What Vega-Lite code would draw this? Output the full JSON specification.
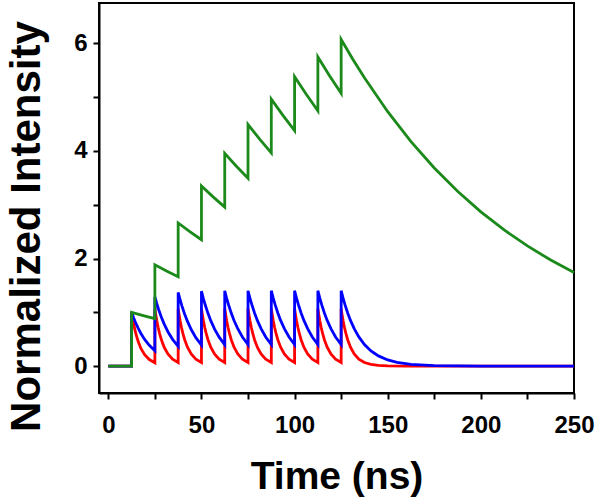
{
  "$schema": "https://vega.github.io/schema/vega-lite/v6.json",
  "width": 475,
  "height": 390,
  "autosize": {"type": "none"},
  "padding": {"left": 99, "top": 3, "right": 26, "bottom": 108},
  "background": "white",
  "config": {
    "view": {"stroke": "black", "strokeWidth": 2},
    "font": "Liberation Sans",
    "axis": {
      "grid": false,
      "domainColor": "black",
      "domainWidth": 2,
      "tickColor": "black",
      "tickWidth": 2,
      "tickSize": 6,
      "labelColor": "black",
      "labelFont": "Liberation Sans",
      "labelFontSize": 24,
      "labelFontWeight": "bold",
      "labelOverlap": false,
      "labelFlush": false,
      "titleColor": "black",
      "titleFont": "Liberation Sans",
      "titleFontWeight": "bold"
    }
  },
  "datasets": {
    "green": [
      {"t":0,"v":0},{"t":12.5,"v":0},{"t":12.5,"v":1},{"t":18.75,"v":0.9394},{"t":25,"v":0.8825},
      {"t":25,"v":1.8825},{"t":31.25,"v":1.7684},{"t":37.5,"v":1.6613},
      {"t":37.5,"v":2.6613},{"t":43.75,"v":2.5001},{"t":50,"v":2.3486},
      {"t":50,"v":3.3486},{"t":56.25,"v":3.1457},{"t":62.5,"v":2.9551},
      {"t":62.5,"v":3.9551},{"t":68.75,"v":3.7155},{"t":75,"v":3.4904},
      {"t":75,"v":4.4904},{"t":81.25,"v":4.2183},{"t":87.5,"v":3.9627},
      {"t":87.5,"v":4.9627},{"t":93.75,"v":4.6621},{"t":100,"v":4.3796},
      {"t":100,"v":5.3796},{"t":106.25,"v":5.0537},{"t":112.5,"v":4.7475},
      {"t":112.5,"v":5.7475},{"t":118.75,"v":5.3993},{"t":125,"v":5.0721},
      {"t":125,"v":6.0721},{"t":131.25,"v":5.7042},{"t":137.5,"v":5.3586},{"t":150,"v":4.729},
      {"t":162.5,"v":4.1733},{"t":175,"v":3.6829},{"t":187.5,"v":3.2502},{"t":200,"v":2.8683},
      {"t":212.5,"v":2.5313},{"t":225,"v":2.2338},{"t":237.5,"v":1.9713},{"t":250,"v":1.7397}
    ],
    "blue": [
      {"t":0,"v":0},{"t":12.5,"v":0},
      {"t":12.5,"v":1},{"t":13.5,"v":0.9048},{"t":14.5,"v":0.8187},{"t":16,"v":0.7047},{"t":17.5,"v":0.6065},{"t":19.5,"v":0.4966},{"t":22,"v":0.3867},{"t":25,"v":0.2865},
      {"t":25,"v":1.2865},{"t":26,"v":1.1641},{"t":27,"v":1.0533},{"t":28.5,"v":0.9066},{"t":30,"v":0.7803},{"t":32,"v":0.6389},{"t":34.5,"v":0.4975},{"t":37.5,"v":0.3686},
      {"t":37.5,"v":1.3686},{"t":38.5,"v":1.2384},{"t":39.5,"v":1.1205},{"t":41,"v":0.9644},{"t":42.5,"v":0.8301},{"t":44.5,"v":0.6796},{"t":47,"v":0.5293},{"t":50,"v":0.3921},
      {"t":50,"v":1.3921},{"t":51,"v":1.2596},{"t":52,"v":1.1398},{"t":53.5,"v":0.981},{"t":55,"v":0.8444},{"t":57,"v":0.6913},{"t":59.5,"v":0.5384},{"t":62.5,"v":0.3988},
      {"t":62.5,"v":1.3988},{"t":63.5,"v":1.2657},{"t":64.5,"v":1.1453},{"t":66,"v":0.9858},{"t":67.5,"v":0.8484},{"t":69.5,"v":0.6946},{"t":72,"v":0.541},{"t":75,"v":0.4008},
      {"t":75,"v":1.401},{"t":76,"v":1.2677},{"t":77,"v":1.147},{"t":78.5,"v":0.9873},{"t":80,"v":0.8498},{"t":82,"v":0.6957},{"t":84.5,"v":0.5418},{"t":87.5,"v":0.4014},
      {"t":87.5,"v":1.4014},{"t":88.5,"v":1.2677},{"t":89.5,"v":1.147},{"t":91,"v":0.9873},{"t":92.5,"v":0.8498},{"t":94.5,"v":0.6957},{"t":97,"v":0.5418},{"t":100,"v":0.4014},
      {"t":100,"v":1.4014},{"t":101,"v":1.2677},{"t":102,"v":1.147},{"t":103.5,"v":0.9873},{"t":105,"v":0.8498},{"t":107,"v":0.6957},{"t":109.5,"v":0.5418},{"t":112.5,"v":0.4014},
      {"t":112.5,"v":1.4014},{"t":113.5,"v":1.2677},{"t":114.5,"v":1.147},{"t":116,"v":0.9873},{"t":117.5,"v":0.8498},{"t":119.5,"v":0.6957},{"t":122,"v":0.5418},{"t":125,"v":0.4014},
      {"t":125,"v":1.4015},{"t":126,"v":1.2681},{"t":127,"v":1.1475},{"t":128.5,"v":0.9876},{"t":130,"v":0.8501},{"t":132,"v":0.696},{"t":134.5,"v":0.542},{"t":137.5,"v":0.4015},
      {"t":141,"v":0.283},{"t":145,"v":0.1897},{"t":150,"v":0.115},{"t":155,"v":0.0698},{"t":162.5,"v":0.033},{"t":175,"v":0.0094},{"t":200,"v":0.0008},{"t":250,"v":0}
    ],
    "red": [
      {"t":0,"v":0},{"t":12.5,"v":0},
      {"t":12.5,"v":1},{"t":13,"v":0.8948},{"t":13.5,"v":0.8007},{"t":14.25,"v":0.6778},{"t":15,"v":0.5738},{"t":16,"v":0.4594},{"t":17.5,"v":0.3292},{"t":19.5,"v":0.2111},{"t":22,"v":0.1211},{"t":25,"v":0.0622},
      {"t":25,"v":1.0622},{"t":25.5,"v":0.9505},{"t":26,"v":0.8505},{"t":26.75,"v":0.72},{"t":27.5,"v":0.6094},{"t":28.5,"v":0.488},{"t":30,"v":0.3497},{"t":32,"v":0.2242},{"t":34.5,"v":0.1286},{"t":37.5,"v":0.066},
      {"t":37.5,"v":1.066},{"t":38,"v":0.9542},{"t":38.5,"v":0.8538},{"t":39.25,"v":0.7228},{"t":40,"v":0.6118},{"t":41,"v":0.4899},{"t":42.5,"v":0.351},{"t":44.5,"v":0.2251},{"t":47,"v":0.1291},{"t":50,"v":0.0663},
      {"t":50,"v":1.0663},{"t":50.5,"v":0.9542},{"t":51,"v":0.8538},{"t":51.75,"v":0.7228},{"t":52.5,"v":0.6118},{"t":53.5,"v":0.4899},{"t":55,"v":0.351},{"t":57,"v":0.2251},{"t":59.5,"v":0.1291},{"t":62.5,"v":0.0663},
      {"t":62.5,"v":1.0663},{"t":63,"v":0.9542},{"t":63.5,"v":0.8538},{"t":64.25,"v":0.7228},{"t":65,"v":0.6118},{"t":66,"v":0.4899},{"t":67.5,"v":0.351},{"t":69.5,"v":0.2251},{"t":72,"v":0.1291},{"t":75,"v":0.0663},
      {"t":75,"v":1.0663},{"t":75.5,"v":0.9542},{"t":76,"v":0.8538},{"t":76.75,"v":0.7228},{"t":77.5,"v":0.6118},{"t":78.5,"v":0.4899},{"t":80,"v":0.351},{"t":82,"v":0.2251},{"t":84.5,"v":0.1291},{"t":87.5,"v":0.0663},
      {"t":87.5,"v":1.0663},{"t":88,"v":0.9542},{"t":88.5,"v":0.8538},{"t":89.25,"v":0.7228},{"t":90,"v":0.6118},{"t":91,"v":0.4899},{"t":92.5,"v":0.351},{"t":94.5,"v":0.2251},{"t":97,"v":0.1291},{"t":100,"v":0.0663},
      {"t":100,"v":1.0663},{"t":100.5,"v":0.9542},{"t":101,"v":0.8538},{"t":101.75,"v":0.7228},{"t":102.5,"v":0.6118},{"t":103.5,"v":0.4899},{"t":105,"v":0.351},{"t":107,"v":0.2251},{"t":109.5,"v":0.1291},{"t":112.5,"v":0.0663},
      {"t":112.5,"v":1.0663},{"t":113,"v":0.9542},{"t":113.5,"v":0.8538},{"t":114.25,"v":0.7228},{"t":115,"v":0.6118},{"t":116,"v":0.4899},{"t":117.5,"v":0.351},{"t":119.5,"v":0.2251},{"t":122,"v":0.1291},{"t":125,"v":0.0663},
      {"t":125,"v":1.0663},{"t":125.5,"v":0.9542},{"t":126,"v":0.8538},{"t":126.75,"v":0.7228},{"t":127.5,"v":0.6118},{"t":128.5,"v":0.4899},{"t":130,"v":0.351},{"t":132,"v":0.2251},{"t":134.5,"v":0.1291},{"t":137.5,"v":0.0663},
      {"t":141,"v":0.0305},{"t":145,"v":0.0125},{"t":150,"v":0.0041},{"t":160,"v":0.0004},{"t":175,"v":0},{"t":250,"v":0}
    ]
  },
  "encoding": {
    "x": {
      "field": "t",
      "type": "quantitative",
      "scale": {"domain": [-5, 250], "nice": false, "zero": false},
      "axis": {
        "title": "Time (ns)",
        "titleFontSize": 39,
        "values": [0, 25, 50, 75, 100, 125, 150, 175, 200, 225, 250],
        "labelExpr": "datum.value % 50 === 0 ? datum.label : ''",
        "labelBaseline": "alphabetic",
        "labelPadding": 33,
        "titleX": 237.5,
        "titleY": 95,
        "titleAlign": "center",
        "titleBaseline": "alphabetic"
      }
    },
    "y": {
      "field": "v",
      "type": "quantitative",
      "scale": {"domain": [-0.5, 6.75], "nice": false, "zero": false},
      "axis": {
        "title": "Normalized Intensity",
        "titleFontSize": 42,
        "values": [0, 1, 2, 3, 4, 5, 6],
        "labelExpr": "datum.value % 2 === 0 ? datum.label : ''",
        "labelPadding": 6,
        "titleAngle": 270,
        "titleX": -60,
        "titleY": 223,
        "titleAlign": "center",
        "titleBaseline": "alphabetic"
      }
    },
    "order": {"value": null}
  },
  "layer": [
    {"data": {"name": "red"}, "mark": {"type": "line", "color": "#ff0000", "strokeWidth": 2.8}},
    {"data": {"name": "blue"}, "mark": {"type": "line", "color": "#0000ff", "strokeWidth": 2.8}},
    {"data": {"name": "green"}, "mark": {"type": "line", "color": "#1b8a1b", "strokeWidth": 2.8}}
  ]
}
